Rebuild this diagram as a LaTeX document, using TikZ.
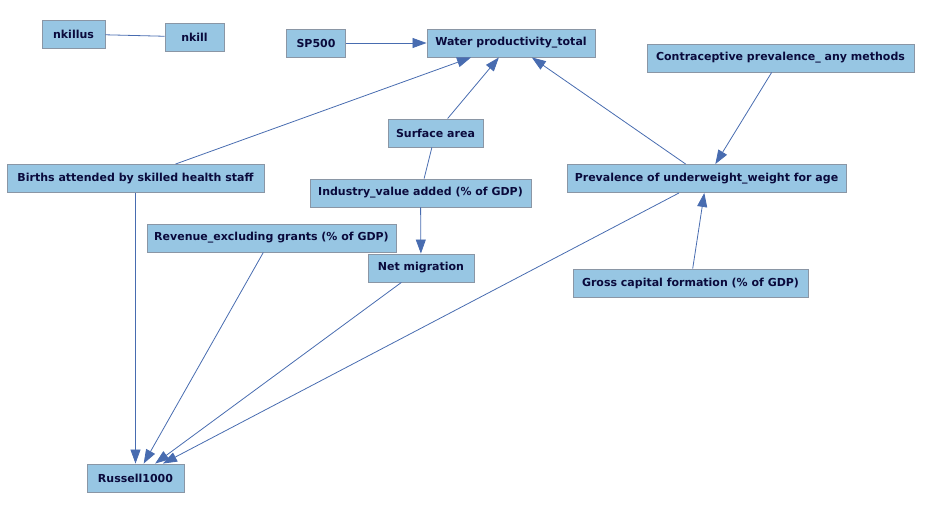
\documentclass[tikz,border=0pt]{standalone}
\usepackage{fontspec}
\setmainfont{DejaVu Sans}
\usetikzlibrary{arrows.meta,positioning}
\definecolor{boxfill}{RGB}{151,198,227}
\definecolor{boxline}{RGB}{138,150,165}
\definecolor{edgeblue}{RGB}{72,108,176}
\definecolor{labeltext}{RGB}{10,10,60}

\begin{document}
\begin{tikzpicture}[x=1pt,y=-1pt,
		var/.style={draw=boxline,fill=boxfill,line width=0.9pt,minimum height=28pt,inner sep=0pt,
			font=\bfseries\fontsize{11}{13}\selectfont,text=labeltext},
		cause/.style={draw=edgeblue,line width=0.8pt,-{Triangle[length=14pt,width=10pt]}},
		link/.style={draw=edgeblue,line width=0.8pt}]
		\useasboundingbox (0,0) rectangle (948,505);
		
		\node[var,minimum width=63pt] (nkillus) at (73.5,34) {nkillus};
		\node[var,minimum width=59pt] (nkill) at (194.5,37) {nkill};
		\node[var,minimum width=59pt] (sp) at (316,43) {SP500};
		\node[var,minimum width=168pt] (water) at (511,43) {Water productivity\_total};
		\node[var,minimum width=267pt] (contra) at (780.5,58) {Contraceptive prevalence\_ any methods};
		\node[var,minimum width=95pt] (surf) at (435.5,133) {Surface area};
		\node[var,minimum width=257pt] (births) at (135.5,178.5) {Births attended by skilled health staff};
		\node[var,minimum width=279pt] (prev) at (706.5,178.5) {Prevalence of underweight\_weight for age};
		\node[var,minimum width=221pt] (industry) at (420.5,193) {Industry\_value added (\% of GDP)};
		\node[var,minimum width=249pt] (revenue) at (271.5,238) {Revenue\_excluding grants (\% of GDP)};
		\node[var,minimum width=106pt] (netmig) at (421,268) {Net migration};
		\node[var,minimum width=235pt] (gross) at (690.5,283) {Gross capital formation (\% of GDP)};
		\node[var,minimum width=97pt] (russell) at (135.5,478) {Russell1000};
		
		\draw[link] (nkillus) -- (nkill);
		\draw[link] (surf) -- (industry);
		\draw[cause] (sp) -- (water);
		\draw[cause] (births) -- (water);
		\draw[cause] (surf) -- (water);
		\draw[cause] (prev) -- (water);
		\draw[cause] (contra) -- (prev);
		\draw[cause] (gross) -- (prev);
		\draw[cause] (industry) -- (netmig);
		\draw[cause] (births) -- (russell);
		\draw[cause] (revenue) -- (russell);
		\draw[cause] (netmig) -- (russell);
		\draw[cause] (prev) -- (russell);
\end{tikzpicture}
\end{document}
